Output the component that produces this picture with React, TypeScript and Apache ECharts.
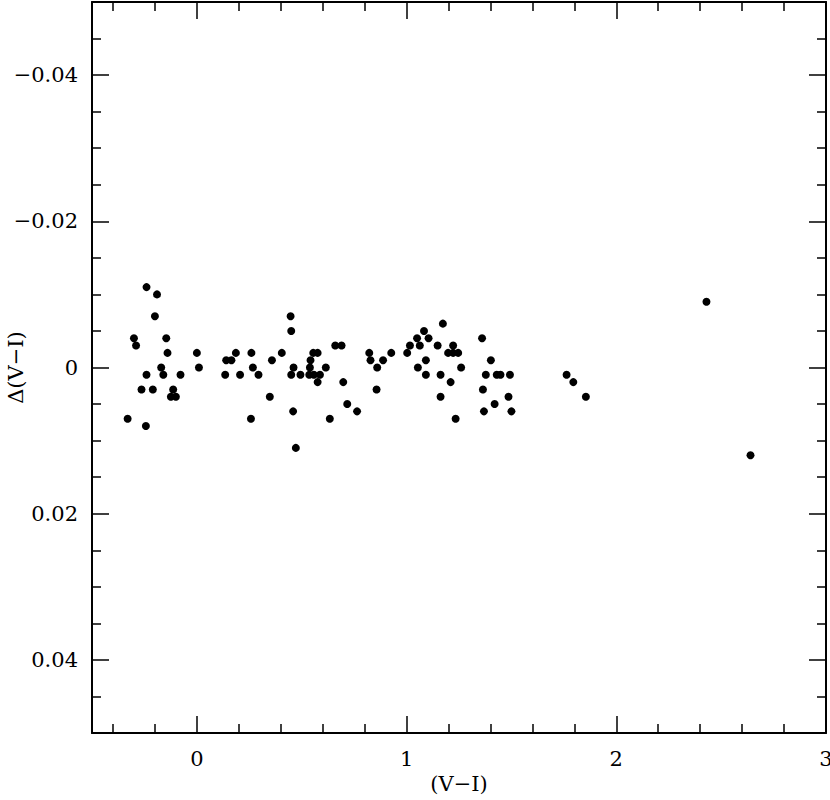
import React, { useEffect, useRef } from "react";
import * as echarts from "echarts";

const colorVI: number[] = [
  -0.33, -0.30, -0.29, -0.264, -0.243, -0.24, -0.24, -0.21, -0.20, -0.19,
  -0.17, -0.16, -0.146, -0.14, -0.124, -0.113, -0.10, -0.078, 0.0, 0.01,
  0.135, 0.14, 0.165, 0.186, 0.206, 0.258, 0.26, 0.267, 0.294, 0.348,
  0.358, 0.405, 0.447, 0.45, 0.45, 0.459, 0.461, 0.472, 0.494, 0.536,
  0.539, 0.542, 0.555, 0.558, 0.576, 0.576, 0.587, 0.615, 0.634, 0.66,
  0.69, 0.698, 0.717, 0.764, 0.822, 0.828, 0.857, 0.86, 0.888, 0.927,
  1.003, 1.016, 1.05, 1.054, 1.063, 1.083, 1.092, 1.092, 1.105, 1.148,
  1.162, 1.162, 1.173, 1.198, 1.21, 1.222, 1.222, 1.234, 1.246, 1.26,
  1.36, 1.364, 1.369, 1.378, 1.402, 1.42, 1.43, 1.448, 1.486, 1.493,
  1.50, 1.763, 1.795, 1.855, 2.43, 2.64,
];
const deltaVI: number[] = [
  0.007, -0.004, -0.003, 0.003, 0.008, -0.011, 0.001, 0.003, -0.007, -0.010,
  0.0, 0.001, -0.004, -0.002, 0.004, 0.003, 0.004, 0.001, -0.002, 0.0,
  0.001, -0.001, -0.001, -0.002, 0.001, 0.007, -0.002, 0.0, 0.001, 0.004,
  -0.001, -0.002, -0.007, -0.005, 0.001, 0.006, 0.0, 0.011, 0.001, 0.001,
  0.0, -0.001, -0.002, 0.001, -0.002, 0.002, 0.001, 0.0, 0.007, -0.003,
  -0.003, 0.002, 0.005, 0.006, -0.002, -0.001, 0.003, 0.0, -0.001, -0.002,
  -0.002, -0.003, -0.004, 0.0, -0.003, -0.005, -0.001, 0.001, -0.004, -0.003,
  0.001, 0.004, -0.006, -0.002, 0.002, -0.003, -0.002, 0.007, -0.002, 0.0,
  -0.004, 0.003, 0.006, 0.001, -0.001, 0.005, 0.001, 0.001, 0.004, 0.001,
  0.006, 0.001, 0.002, 0.004, -0.009, 0.012,
];

const xMajor: number[] = [0, 1, 2, 3];
const xMinor: number[] = [-0.4, -0.2, 0.2, 0.4, 0.6, 0.8, 1.2, 1.4, 1.6, 1.8, 2.2, 2.4, 2.6, 2.8];
const yMajor: number[] = [-0.04, -0.02, 0, 0.02, 0.04];
const yMinor: number[] = [
  -0.045, -0.035, -0.03, -0.025, -0.015, -0.01, -0.005,
  0.005, 0.01, 0.015, 0.025, 0.03, 0.035, 0.045,
];

const FONT = "DejaVu Serif";

function fmtY(v: number): string {
  if (Math.abs(v) < 1e-9) return "0";
  const s = Math.abs(v).toFixed(2);
  return v < 0 ? "\u2212" + s : s;
}

export default function App() {
  const ref = useRef<HTMLDivElement>(null);
  useEffect(() => {
    if (!ref.current) return;
    const chart = echarts.init(ref.current, null, { renderer: "svg" });
    const line = { show: true, onZero: false, lineStyle: { color: "#000", width: 2 } };
    const noLine = { show: false, onZero: false };
    const major = (vals: number[]) => ({
      show: true, inside: true, length: 17, customValues: vals,
      lineStyle: { color: "#000", width: 1.5 },
    });
    const minor = (vals: number[]) => ({
      show: true, inside: true, length: 9, customValues: vals,
      lineStyle: { color: "#000", width: 1.5 },
    });
    const xBase = { type: "value", min: -0.5, max: 3, splitLine: { show: false } };
    const yBase = { type: "value", min: -0.05, max: 0.05, inverse: true, splitLine: { show: false } };
    const points = colorVI.map((x, i) => [x, deltaVI[i]]);
    chart.setOption({
      animation: false,
      backgroundColor: "#fff",
      grid: { left: 92, top: 2, right: 4, bottom: 67, containLabel: false, outerBoundsMode: "none" },
      xAxis: [
        {
          ...xBase, position: "bottom", axisLine: line, axisTick: major(xMajor),
          axisLabel: {
            show: true, customValues: xMajor, margin: 15, color: "#000",
            fontFamily: FONT, fontSize: 21, formatter: (v: number) => String(v),
          },
          name: "(V\u2212I)", nameLocation: "middle", nameGap: 40, nameMoveOverlap: false,
          nameTextStyle: { color: "#000", fontFamily: FONT, fontSize: 21 },
        },
        { ...xBase, position: "bottom", axisLine: noLine, axisTick: minor(xMinor), axisLabel: { show: false } },
        { ...xBase, position: "top", axisLine: line, axisTick: major(xMajor), axisLabel: { show: false } },
        { ...xBase, position: "top", axisLine: noLine, axisTick: minor(xMinor), axisLabel: { show: false } },
      ],
      yAxis: [
        {
          ...yBase, position: "left", axisLine: line, axisTick: major(yMajor),
          axisLabel: {
            show: true, customValues: yMajor, margin: 14, color: "#000",
            fontFamily: FONT, fontSize: 21, formatter: fmtY,
          },
          name: "\u0394(V\u2212I)", nameLocation: "middle", nameGap: 66, nameRotate: 90,
          nameMoveOverlap: false,
          nameTextStyle: { color: "#000", fontFamily: FONT, fontSize: 21 },
        },
        { ...yBase, position: "left", axisLine: noLine, axisTick: minor(yMinor), axisLabel: { show: false } },
        { ...yBase, position: "right", axisLine: line, axisTick: major(yMajor), axisLabel: { show: false } },
        { ...yBase, position: "right", axisLine: noLine, axisTick: minor(yMinor), axisLabel: { show: false } },
      ],
      series: [
        {
          type: "scatter", xAxisIndex: 0, yAxisIndex: 0, data: points,
          symbol: "circle", symbolSize: 8, itemStyle: { color: "#000", opacity: 1 },
        },
      ],
    });
    return () => chart.dispose();
  }, []);
  return (
    <div
      ref={ref}
      style={{ position: "absolute", left: 0, top: 0, width: 830, height: 800, background: "#fff" }}
    />
  );
}
